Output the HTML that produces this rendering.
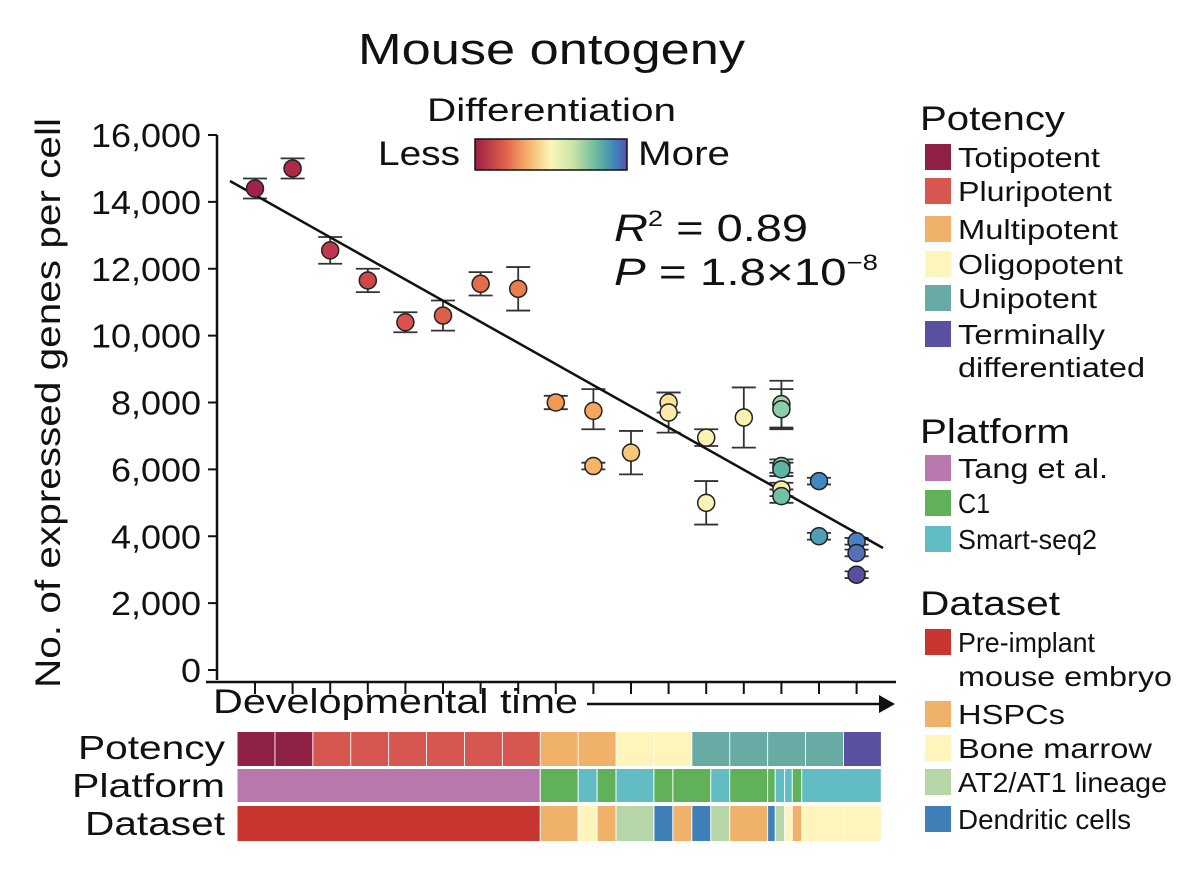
<!DOCTYPE html>
<html><head><meta charset="utf-8">
<style>
html,body{margin:0;padding:0;background:#fff;}
svg{display:block;font-family:"Liberation Sans",Arial,sans-serif;}
</style></head>
<body>
<svg id="chart" width="1200" height="891" viewBox="0 0 1200 891" xmlns="http://www.w3.org/2000/svg">
<defs>
<linearGradient id="diffGrad" x1="0" x2="1" y1="0" y2="0">
<stop offset="0" stop-color="#9e1f45"/>
<stop offset="0.2" stop-color="#e0604a"/>
<stop offset="0.35" stop-color="#f5b36b"/>
<stop offset="0.5" stop-color="#fbf6b8"/>
<stop offset="0.65" stop-color="#c6e3a6"/>
<stop offset="0.82" stop-color="#5fb3a0"/>
<stop offset="0.93" stop-color="#3f7fbf"/>
<stop offset="1" stop-color="#5a4fa3"/>
</linearGradient>
</defs>
<text x="358" y="64" font-size="44" textLength="387" lengthAdjust="spacingAndGlyphs" fill="#111">Mouse ontogeny</text>
<text x="427" y="121" font-size="32" textLength="249" lengthAdjust="spacingAndGlyphs" fill="#111">Differentiation</text>
<text x="378" y="165" font-size="34" textLength="82" lengthAdjust="spacingAndGlyphs" fill="#111">Less</text>
<rect x="475" y="139" width="152" height="31" fill="url(#diffGrad)" stroke="#111" stroke-width="1.5"/>
<text x="638" y="165" font-size="34" textLength="92" lengthAdjust="spacingAndGlyphs" fill="#111">More</text>
<text x="614" y="241" font-size="38" textLength="194" lengthAdjust="spacingAndGlyphs" fill="#111"><tspan font-style="italic">R</tspan><tspan font-size="22" dy="-15">2</tspan><tspan dy="15"> = 0.89</tspan></text>
<text x="614" y="285" font-size="38" textLength="264" lengthAdjust="spacingAndGlyphs" fill="#111"><tspan font-style="italic">P</tspan> = 1.8×10<tspan font-size="22" dy="-15">−8</tspan></text>
<text transform="translate(60,403) rotate(-90)" font-size="35" text-anchor="middle" textLength="570" lengthAdjust="spacingAndGlyphs" fill="#111">No. of expressed genes per cell</text>
<g id="yaxis"></g>
<g id="xaxis"></g>
<text x="213" y="713" font-size="34" textLength="365" lengthAdjust="spacingAndGlyphs" fill="#111">Developmental time</text>
<line x1="587" y1="704" x2="880" y2="704" stroke="#111" stroke-width="2.5"/>
<polygon points="895,704 879,695 879,713" fill="#111"/>
<g id="errs"></g>
<line x1="230" y1="181" x2="883" y2="548" stroke="#111" stroke-width="2.5"/>
<g id="pts"></g>
<g id="strips"></g>
<text x="78" y="759" font-size="33" textLength="147" lengthAdjust="spacingAndGlyphs" fill="#111">Potency</text>
<text x="72" y="797" font-size="33" textLength="153" lengthAdjust="spacingAndGlyphs" fill="#111">Platform</text>
<text x="85" y="835" font-size="33" textLength="140" lengthAdjust="spacingAndGlyphs" fill="#111">Dataset</text>
<g id="legend"></g>
</svg>
<script>
// ---- data ----
const yTicks = [0,2000,4000,6000,8000,10000,12000,14000,16000];
const yTickLabels = ["0","2,000","4,000","6,000","8,000","10,000","12,000","14,000","16,000"];
const timeIndex = [0,1,2,3,4,5,6,7,8,9,9,10,11,11,12,12,13,14,14,14,14,14,14,15,15,16,16,16];
const genes =     [14400,15000,12550,11650,10400,10600,11550,11400,8000,7750,6100,6500,8000,7700,6950,5000,7550,7950,7800,6100,6000,5400,5200,5650,4000,3850,3500,2850];
const errLow =    [300,300,400,350,300,450,350,650,200,550,100,650,300,600,250,650,900,700,600,200,200,200,200,100,100,100,100,100];
const errHigh =   [300,300,400,350,300,450,350,650,200,650,100,650,300,600,250,650,900,700,600,200,200,200,200,100,100,100,100,100];
const pointColors = ["#a3214a","#b02a48","#c2374b","#cf464b","#d9534b","#dc5f4a","#e46e4a","#ea7d4c","#f09a55","#f3a75e","#f5b468","#f8c778","#fbe199","#fbeaa8","#fbf2b3","#fbf2b3","#f9f2b0","#a6d8a8","#8dcdaa","#8fd0ac","#5fb3a6","#f6eea0","#72c0a5","#3f88c0","#4e9fb5","#4a80c4","#5572b8","#5a4fa3"];
const potencyCols = ["#8f2244","#8f2244","#d5574f","#d5574f","#d5574f","#d5574f","#d5574f","#d5574f","#f0b16a","#f0b16a","#fdf5bc","#fdf5bc","#68aba5","#68aba5","#68aba5","#68aba5","#5a50a0"];
const platStart = [0,8,9,9.5,10,11,11.5,12.5,13,14,14.2,14.45,14.65,14.9];
const platEnd   = [8,9,9.5,10,11,11.5,12.5,13,14,14.2,14.45,14.65,14.9,17];
const platColor = ["#b778ae","#60b15a","#62bcc4","#60b15a","#62bcc4","#60b15a","#60b15a","#62bcc4","#60b15a","#60b15a","#62bcc4","#62bcc4","#60b15a","#62bcc4"];
const dataStart = [0,8,9,9.5,10,11,11.5,12,12.5,13,14,14.2,14.45,14.65,14.9,16];
const dataEnd   = [8,9,9.5,10,11,11.5,12,12.5,13,14,14.2,14.45,14.65,14.9,16,17];
const dataColor = ["#c8342f","#f0b16a","#fdf5bc","#f0b16a","#b7d6a8","#3f80b9","#f0b16a","#3f80b9","#b7d6a8","#f0b16a","#3f80b9","#b7d6a8","#fdf5bc","#f0b16a","#fdf5bc","#fdf5bc"];

const NS="http://www.w3.org/2000/svg";
function mk(tag, attrs, parent){const e=document.createElementNS(NS,tag);for(const k in attrs)e.setAttribute(k,attrs[k]);parent.appendChild(e);return e;}
const yS = v => 670 - v*(535/16000);
const xS = i => 255 + i*37.6;
const colX = c => 237 + c*37.9;

const ya=document.getElementById('yaxis');
const yl=mk('line',{x1:217,y1:yS(16000),x2:217,y2:680,stroke:'#111','stroke-width':2.5},ya);


yTicks.forEach((t,i)=>{
  const tk=mk('line',{x1:208,y1:yS(t),x2:217,y2:yS(t),stroke:'#111','stroke-width':2},ya);
  
  
  const lbl=yTickLabels[i];
  const w=lbl.length===1?20:(lbl.length===5?90:110);
  const tx=mk('text',{x:201,y:yS(t)+12,'font-size':33,'text-anchor':'end',fill:'#111',textLength:w,lengthAdjust:'spacingAndGlyphs'},ya);
  tx.textContent=lbl;
  
  
});
const xa=document.getElementById('xaxis');
const xl=mk('line',{x1:206,y1:682,x2:896,y2:682,stroke:'#111','stroke-width':2.5},xa);


for(let i=0;i<17;i++){
  const tk=mk('line',{x1:xS(i),y1:682,x2:xS(i),y2:694,stroke:'#111','stroke-width':2},xa);
  
  
}
const eg=document.getElementById('errs'), pg=document.getElementById('pts');
genes.forEach((v,k)=>{
  const x=xS(timeIndex[k]), yT=yS(v+errHigh[k]), yB=yS(v-errLow[k]);
  const g=mk('g',{stroke:'#333','stroke-width':1.8},eg);
  
  
  mk('line',{x1:x,y1:yT,x2:x,y2:yB},g);
  mk('line',{x1:x-12,y1:yT,x2:x+12,y2:yT},g);
  mk('line',{x1:x-12,y1:yB,x2:x+12,y2:yB},g);
  const c=mk('circle',{cx:x,cy:yS(v),r:8.5,fill:pointColors[k],stroke:'#222','stroke-width':1.5},pg);
  
  
});
const sg=document.getElementById('strips');
potencyCols.forEach((col,i)=>{
  const r=mk('rect',{x:colX(i)+0.5,y:732,width:37,height:34,fill:col},sg);
  
  
});
platStart.forEach((s,i)=>{
  const r=mk('rect',{x:colX(s)+0.5,y:769,width:(platEnd[i]-s)*37.9-1,height:33,fill:platColor[i]},sg);
  
  
});
dataStart.forEach((s,i)=>{
  const r=mk('rect',{x:colX(s)+0.5,y:806,width:(dataEnd[i]-s)*37.9-1,height:35,fill:dataColor[i]},sg);
  
  
});
// legend: [color, text, width, baseline]
const lg=document.getElementById('legend');
const titles=[["Potency",130,145],["Platform",443,150],["Dataset",615,140]];
titles.forEach(t=>{
  const e=mk('text',{x:920,y:t[1],'font-size':34,fill:'#111',textLength:t[2],lengthAdjust:'spacingAndGlyphs'},lg);
  e.textContent=t[0];
  
  
});
const entries=[
 ["#8f2244","Totipotent",142,167],["#d5574f","Pluripotent",154,201],["#f0b16a","Multipotent",160,239],
 ["#fdf5bc","Oligopotent",165,274],["#68aba5","Unipotent",139,308],["#5a50a0","Terminally",147,344],
 [null,"differentiated",187,377],
 ["#b778ae","Tang et al.",150,478],["#60b15a","C1",32,513],["#62bcc4","Smart-seq2",139,549],
 ["#c8342f","Pre-implant",137,652],[null,"mouse embryo",214,686],["#f0b16a","HSPCs",107,724],
 ["#fdf5bc","Bone marrow",194,758],["#b7d6a8","AT2/AT1 lineage",209,792],["#3f80b9","Dendritic cells",173,829]
];
entries.forEach(e=>{
  if(e[0]){
    const r=mk('rect',{x:925,y:e[3]-23,width:26,height:26,fill:e[0]},lg);
    
    
  }
  const t=mk('text',{x:958,y:e[3],'font-size':28,fill:'#111',textLength:e[2],lengthAdjust:'spacingAndGlyphs'},lg);
  t.textContent=e[1];
  
  
});
</script>
</body></html>
